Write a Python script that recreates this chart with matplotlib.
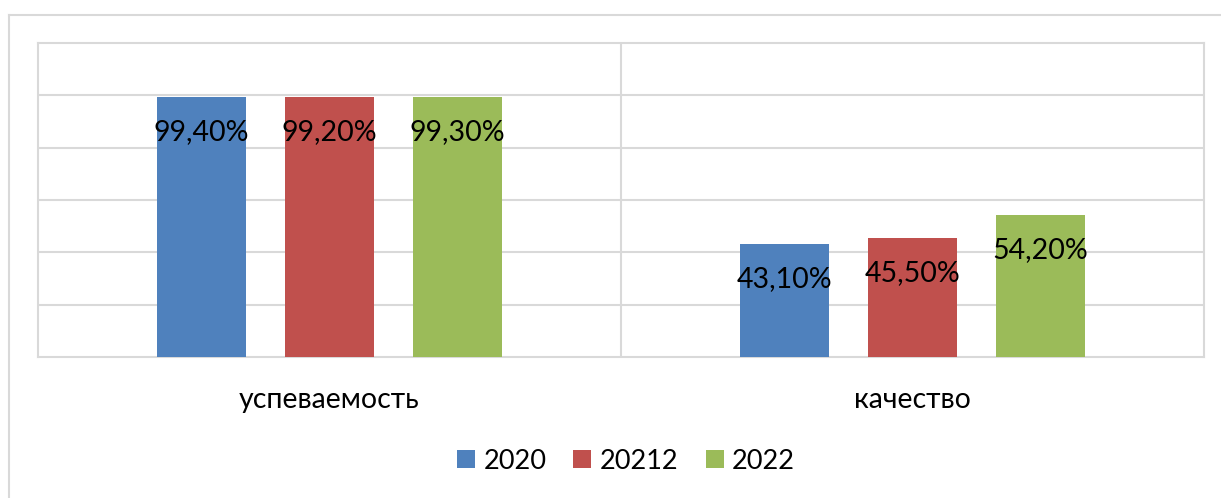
import matplotlib.pyplot as plt
from matplotlib.lines import Line2D
from matplotlib.patches import Patch

categories = ["успеваемость", "качество"]
series_names = ["2020", "20212", "2022"]
values = {
    "2020": [0.994, 0.431],
    "20212": [0.992, 0.455],
    "2022": [0.993, 0.542],
}
labels = {
    "2020": ["99,40%", "43,10%"],
    "20212": ["99,20%", "45,50%"],
    "2022": ["99,30%", "54,20%"],
}
colors = ["#4F81BD", "#C0504D", "#9BBB59"]

plt.rcParams['font.family'] = ['Lato', 'DejaVu Sans']

W, H = 1221, 498
fig = plt.figure(figsize=(W / 100, H / 100), dpi=100)
ax = fig.add_axes([38 / W, 1 - 357 / H, (1204 - 38) / W, (357 - 43) / H])

grid_c = "#D9D9D9"
offsets = [-0.2195, 0.0, 0.2195]
width = 0.153
for i, name in enumerate(series_names):
    xs = [c + offsets[i] for c in range(len(categories))]
    bars = ax.bar(xs, values[name], width=width, color=colors[i], zorder=3)
    for b, lab in zip(bars, labels[name]):
        ax.annotate(lab, (b.get_x() + b.get_width() / 2, b.get_height()),
                    xytext=(0, -25), textcoords="offset points",
                    ha="center", va="center", fontsize=20.5, color="black", zorder=4)

ax.set_xlim(-0.5, 1.5)
ax.set_ylim(0, 1.2)
ax.set_yticks([0.2, 0.4, 0.6, 0.8, 1.0])
ax.yaxis.grid(True, color=grid_c, linewidth=1.5, zorder=0)
ax.axvline(0.5, color=grid_c, linewidth=1.5, zorder=0)
ax.tick_params(axis="both", length=0, labelleft=False, labelbottom=False)
for s in ax.spines.values():
    s.set_color(grid_c)
    s.set_linewidth(1.5)

for c, cat in enumerate(categories):
    ax.annotate(cat, (c, 0), xytext=(0, -31), textcoords="offset points",
                ha="center", va="center", fontsize=20.5, color="black")

handles = [Patch(facecolor=colors[i], label=series_names[i]) for i in range(3)]
fig.legend(handles=handles, loc="center", bbox_to_anchor=(626 / W, 1 - 461 / H),
           ncol=3, frameon=False, fontsize=19.5, handlelength=0.66, handleheight=0.66,
           columnspacing=1.0, handletextpad=0.32)

fig.add_artist(Line2D([9 / W, 9 / W], [0, 1 - 15 / H], color=grid_c, linewidth=1.5, transform=fig.transFigure))
fig.add_artist(Line2D([9 / W, 1], [1 - 15 / H, 1 - 15 / H], color=grid_c, linewidth=1.5, transform=fig.transFigure))

fig.savefig("out.png", dpi=100)
